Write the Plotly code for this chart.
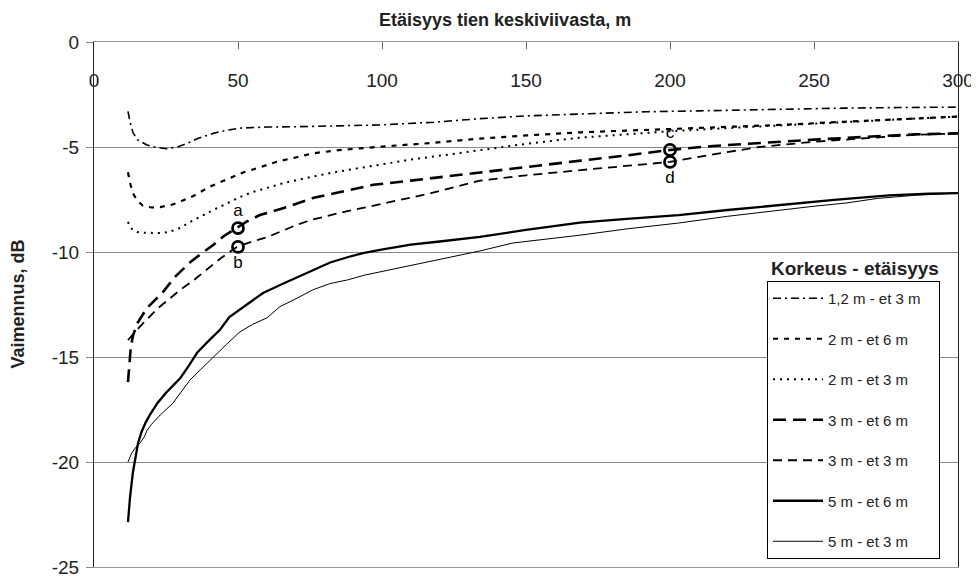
import plotly.graph_objects as go

# ---------------- data ----------------
s1_name = "1,2 m - et 3 m"
s1_x = [11.8, 12.5, 13.5, 15, 18.4, 21, 25, 29, 32, 36, 41.4, 46, 50.7, 60, 71.5, 85, 99, 118, 134, 150, 168, 192, 210, 238, 260, 280, 300]
s1_y = [-3.3, -3.8, -4.3, -4.65, -4.9, -5.0, -5.08, -5.0, -4.85, -4.6, -4.35, -4.2, -4.1, -4.05, -4.03, -4.0, -3.95, -3.82, -3.65, -3.52, -3.42, -3.32, -3.28, -3.2, -3.15, -3.12, -3.1]

s2_name = "2 m - et 6 m"
s2_x = [11.8, 12.5, 13.5, 15, 17, 20, 23, 27, 30, 35, 40, 46, 52, 58, 63.5, 70, 76, 85, 93, 100, 118, 134, 150, 169, 185, 200, 220, 238, 260, 280, 300]
s2_y = [-6.2, -6.7, -7.2, -7.55, -7.8, -7.88, -7.86, -7.75, -7.6, -7.3, -6.9, -6.55, -6.2, -5.95, -5.7, -5.5, -5.3, -5.15, -5.05, -4.98, -4.8, -4.6, -4.45, -4.3, -4.22, -4.15, -4.05, -3.95, -3.8, -3.68, -3.55]

s3_name = "2 m - et 3 m"
s3_x = [11.8, 12.5, 13.5, 15, 17, 19.4, 23, 26, 30, 33, 37, 41.4, 46, 50.7, 55, 60, 65, 70.5, 76, 82, 90, 97, 110, 122, 134, 150, 169, 185, 200, 220, 240, 260, 280, 300]
s3_y = [-8.57, -8.8, -8.95, -9.05, -9.08, -9.1, -9.1, -9.05, -8.85, -8.6, -8.3, -8.0, -7.7, -7.38, -7.15, -6.95, -6.75, -6.57, -6.4, -6.24, -6.05, -5.88, -5.6, -5.38, -5.15, -4.85, -4.55, -4.38, -4.25, -4.1, -3.95, -3.8, -3.68, -3.55]

s4_name = "3 m - et 6 m"
s4_x = [11.8, 12.2, 12.8, 13.5, 15, 18.4, 21, 24, 28, 33.3, 37, 41.4, 45, 49.6, 53, 57.6, 62, 67, 76, 88, 97, 110, 122, 134, 150, 169, 185, 200, 215, 231, 250, 270, 285, 300]
s4_y = [-16.2, -15.3, -14.5, -14.0, -13.4, -12.67, -12.3, -11.9, -11.2, -10.5, -10.1, -9.67, -9.25, -8.86, -8.55, -8.24, -8.05, -7.86, -7.43, -7.05, -6.8, -6.6, -6.4, -6.2, -5.95, -5.65, -5.4, -5.14, -4.95, -4.8, -4.65, -4.5, -4.4, -4.35]

s5_name = "3 m - et 3 m"
s5_x = [11.8, 13, 15, 17, 18.4, 22, 26, 30, 35, 39, 44, 49.6, 55, 60, 65, 70.5, 76, 82, 88, 93.4, 100, 117, 134, 150, 169, 185, 200, 215, 231, 250, 270, 285, 300]
s5_y = [-14.2, -14.0, -13.7, -13.4, -13.2, -12.7, -12.25, -11.8, -11.3, -10.86, -10.3, -9.76, -9.5, -9.3, -9.0, -8.7, -8.45, -8.24, -8.05, -7.9, -7.7, -7.2, -6.6, -6.35, -6.1, -5.9, -5.71, -5.35, -5.0, -4.75, -4.55, -4.42, -4.35]

s6_name = "5 m - et 6 m"
s6_x = [11.8, 12.5, 13.5, 14.5, 15.3, 16.5, 18, 19.4, 22, 25, 30, 33, 35.8, 40, 43.75, 47, 51, 55, 58.7, 65, 70.5, 76, 82, 88, 93.4, 99.3, 110, 120, 134, 150, 168.7, 185, 203, 220, 238, 257, 276, 290, 300]
s6_y = [-22.86, -21.7, -20.5, -19.7, -19.1, -18.57, -18.1, -17.76, -17.2, -16.7, -16.0, -15.4, -14.8, -14.2, -13.7, -13.1, -12.7, -12.3, -11.95, -11.55, -11.2, -10.85, -10.5, -10.25, -10.05, -9.9, -9.65, -9.5, -9.28, -8.95, -8.6, -8.42, -8.24, -8.0, -7.76, -7.52, -7.3, -7.22, -7.2]

s7_name = "5 m - et 3 m"
s7_x = [11.8, 13, 14.5, 16, 17.5, 18.4, 20, 23, 27.4, 30, 33.3, 37, 41.4, 46, 50.7, 55, 60, 64.6, 70.5, 76, 82, 88, 94, 99.3, 110, 122.5, 134, 145.5, 157, 168.7, 185, 203, 220, 238, 250, 261, 272, 285, 300]
s7_y = [-20.0, -19.6, -19.3, -19.1, -18.8, -18.5, -18.2, -17.76, -17.2, -16.7, -16.1, -15.6, -15.0, -14.4, -13.8, -13.45, -13.14, -12.6, -12.2, -11.8, -11.5, -11.33, -11.1, -10.95, -10.65, -10.3, -9.95, -9.57, -9.4, -9.2, -8.9, -8.62, -8.3, -8.0, -7.82, -7.67, -7.45, -7.3, -7.2]

point_labels = ["a", "b", "c", "d"]
point_x = [50, 50, 200, 200]
point_y = [-8.86, -9.76, -5.14, -5.71]

x_ticks = [0, 50, 100, 150, 200, 250, 300]
y_ticks = [0, -5, -10, -15, -20, -25]
y_ticktext = ["0", "-5", "-10", "-15", "-20", "-25"]

x_title = "Etäisyys tien keskiviivasta, m"
y_title = "Vaimennus, dB"
legend_title = "Korkeus - etäisyys"

# ---------------- figure ----------------
FONT = "Arial, Liberation Sans, sans-serif"
series = [
    (s1_name, s1_x, s1_y, dict(color="black", width=1.6, dash="8px,4px,2px,4px")),
    (s2_name, s2_x, s2_y, dict(color="black", width=2.2, dash="5px,6px")),
    (s3_name, s3_x, s3_y, dict(color="black", width=2.0, dash="2px,5px")),
    (s4_name, s4_x, s4_y, dict(color="black", width=2.6, dash="13px,7px")),
    (s5_name, s5_x, s5_y, dict(color="black", width=1.8, dash="9px,6px")),
    (s6_name, s6_x, s6_y, dict(color="black", width=2.3)),
    (s7_name, s7_x, s7_y, dict(color="black", width=1.0)),
]

fig = go.Figure()
for i, (name, xs, ys, line) in enumerate(series):
    fig.add_trace(go.Scatter(x=xs, y=ys, mode="lines", name=name + "&nbsp;&nbsp;&nbsp;",
                             line=line, legendgroup=f"g{i}"))

fig.add_trace(go.Scatter(
    x=point_x, y=point_y, mode="markers+text", text=point_labels,
    textposition=["top center", "bottom center", "top center", "bottom center"],
    textfont=dict(size=17, color="black", family=FONT),
    marker=dict(symbol="circle-open", size=11, color="black", line=dict(width=2.8, color="black")),
    showlegend=False, hoverinfo="skip"))

# helper trace so that the label axis exists
fig.add_trace(go.Scatter(x=[], y=[], xaxis="x2", showlegend=False, hoverinfo="skip"))

# page body has an 8px margin: the figure starts at (8, 8) in the window
OFF = 8
W, H = 979 - OFF, 583 - OFF
PL, PR, PT, PB = 94, 958, 42, 567          # plot area in window pixels
ml, mt = PL - OFF, PT - OFF
mr = W - (PR - OFF)
mb = H - (PB - OFF)
pw, ph = PR - PL, PB - PT

def px_x(p):
    return (p - PL) / pw

def px_y(p):
    return (PB - p) / ph

fig.update_layout(
    width=W, height=H,
    margin=dict(l=ml, r=mr, t=mt, b=mb, autoexpand=False),
    paper_bgcolor="white", plot_bgcolor="white",
    font=dict(family=FONT, color="#222"),
    xaxis=dict(range=[0, 300], side="top", tickvals=x_ticks, showticklabels=False,
               ticks="inside", ticklen=7, tickcolor="#666", showgrid=False, zeroline=False,
               showline=True, linecolor="#999", linewidth=1, mirror=True),
    xaxis2=dict(range=[0, 300], overlaying="x", side="top", anchor="free",
                position=px_y(91), tickvals=x_ticks, ticks="", showline=False,
                showgrid=False, zeroline=False, tickfont=dict(size=19, color="#222")),
    yaxis=dict(range=[-25, 0], tickvals=y_ticks, ticktext=y_ticktext,
               ticks="outside", ticklen=7, tickcolor="#888",
               showgrid=True, gridcolor="#888", gridwidth=1, zeroline=False,
               showline=True, linecolor="#222", linewidth=1, mirror=True,
               tickfont=dict(size=19, color="#222"), ticklabelstandoff=3),
    legend=dict(x=px_x(767), y=px_y(281), xanchor="left", yanchor="top",
                bgcolor="white", bordercolor="black", borderwidth=1,
                font=dict(size=15, color="#222", family=FONT),
                tracegroupgap=18, itemwidth=50, traceorder="grouped"),
    showlegend=True,
    annotations=[
        dict(text=f"<b>{x_title}</b>", x=px_x(505), y=px_y(20), xref="paper", yref="paper",
             showarrow=False, font=dict(size=18, color="#222"), xanchor="center", yanchor="middle"),
        dict(text=f"<b>{y_title}</b>", x=px_x(17), y=0.5, xref="paper", yref="paper",
             showarrow=False, textangle=-90, font=dict(size=18, color="#222"),
             xanchor="center", yanchor="middle"),
        dict(text=f"<b>{legend_title}</b>", x=px_x(855), y=px_y(268), xref="paper", yref="paper",
             showarrow=False, font=dict(size=19, color="#222"), xanchor="center", yanchor="middle"),
    ],
)

fig.write_html("out.html")
